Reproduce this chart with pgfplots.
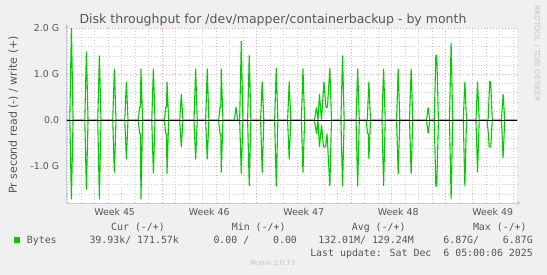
\documentclass[border=0pt]{standalone}
\usepackage{pgfplots}
\pgfplotsset{compat=1.18}
\usepackage{fontspec}
\setmainfont{DejaVu Sans}
\newfontfamily\monof{DejaVu Sans Mono}
\usetikzlibrary{arrows.meta}
\definecolor{bgc}{HTML}{F0F0F0}
\definecolor{txt}{HTML}{555555}
\definecolor{lgtxt}{HTML}{555555}
\definecolor{faint}{HTML}{C4C4C4}
\definecolor{gridmin}{HTML}{C8C8C8}
\definecolor{gridmaj}{HTML}{F2A0A0}
\definecolor{axc}{HTML}{C8C8E8}
\definecolor{dgreen}{HTML}{00CC00}
\begin{document}
\begin{tikzpicture}
\fill[bgc] (0pt,0pt) rectangle (547pt,275pt);
\useasboundingbox (0pt,0pt) rectangle (547pt,275pt);
\begin{axis}[
  at={(66.7pt,72pt)}, anchor=south west,
  scale only axis, width=450.3pt, height=174.7pt,
  xmin=-0.05, xmax=33.3, ymin=-1.80, ymax=2.0,
  axis background/.style={fill=white},
  axis x line*=bottom, axis y line*=left,
  axis line style={draw=axc, line width=0.8pt, -{Triangle[length=4pt,width=4pt]}, shorten >=-4pt},
  xtick={3.5,10.5,17.5,24.5,31.5},
  xticklabels={Week 45,Week 46,Week 47,Week 48,Week 49},
  extra x ticks={0,7,14,21,28},
  extra x tick labels={},
  extra x tick style={grid=major, major tick length=0pt},
  minor xtick={1,2,3,4,5,6,8,9,10,11,12,13,15,16,17,18,19,20,22,23,24,25,26,27,29,30,31,32,33},
  ytick={-1,0,1,2},
  yticklabels={-1.0 G,0.0,1.0 G,2.0 G},
  minor ytick={-1.8,-1.6,-1.4,-1.2,-0.8,-0.6,-0.4,-0.2,0.2,0.4,0.6,0.8,1.2,1.4,1.6,1.8},
  xmajorgrids=false, xminorgrids=true, ymajorgrids=true, yminorgrids=true,
  major grid style={draw=gridmaj, line width=0.6pt, dash pattern=on 1pt off 2pt},
  minor grid style={draw=gridmin, line width=0.6pt, dash pattern=on 1pt off 2pt},
  major tick length=0pt, minor tick length=0pt,
  tick style={draw=none},
  xticklabel style={font=\fontsize{9.4}{11}\selectfont, text=txt, anchor=base, inner sep=0pt, yshift=-12.1pt},
  yticklabel style={font=\fontsize{9.4}{11}\selectfont, text=txt, anchor=east, inner sep=0pt, xshift=-7.4pt},
  clip=true,
]
% write (+)
\addplot[dgreen, line width=1.1pt, line join=bevel] coordinates {
(-0.05,0)
(0.18,0)(0.30,2.05)(0.42,0)
(1.29,0)(1.41,1.50)(1.53,0)
(2.25,0)(2.37,1.41)(2.49,0)
(3.36,0)(3.48,1.12)(3.60,0)
(4.25,0)(4.37,0.84)(4.49,0)
(5.25,0)(5.35,0.28)(5.41,0.28)(5.45,1.12)(5.57,0)
(6.25,0)(6.37,1.12)(6.49,0)
(7.18,0)(7.28,0.28)(7.34,0.28)(7.38,0.84)(7.50,0)
(8.32,0)(8.44,0.57)(8.56,0)
(9.38,0)(9.50,1.12)(9.62,0)
(10.24,0)(10.36,1.12)(10.48,0)
(11.20,0)(11.30,0.28)(11.36,0.28)(11.40,1.12)(11.52,0)
(12.37,0)(12.49,0.29)(12.61,0)
(12.76,0)(12.88,1.72)(13.00,0)
(13.35,0)(13.47,1.41)(13.59,0)
(14.31,0)(14.43,0.84)(14.55,0)
(15.35,0)(15.47,1.14)(15.59,0)
(16.31,0)(16.43,0.84)(16.55,0)
(17.33,0)(17.45,1.12)(17.57,0)
(18.30,0)(18.45,0.28)(18.56,0)(18.67,0.57)(18.82,0)(19.00,0.84)(19.15,0.28)(19.26,0.28)(19.44,1.14)(19.56,0)
(20.26,0)(20.38,1.41)(20.50,0)
(21.38,0)(21.50,1.12)(21.62,0)
(22.21,0)(22.33,0.84)(22.45,0)
(23.30,0)(23.42,1.12)(23.54,0)
(24.38,0)(24.50,1.12)(24.62,0)
(25.34,0)(25.46,1.12)(25.58,0)
(26.60,0)(26.72,0.28)(26.84,0)
(27.17,0)(27.29,1.42)(27.36,1.40)(27.48,0)
(28.30,0)(28.42,1.69)(28.54,0)
(29.32,0)(29.44,0.84)(29.56,0)
(30.26,0)(30.38,0.84)(30.50,0)
(31.16,0)(31.28,0.85)(31.35,0.83)(31.47,0)
(32.15,0)(32.27,0.57)(32.39,0)
(33.3,0)
};
% read (-)
\addplot[dgreen, line width=1.1pt, line join=bevel] coordinates {
(-0.05,0)
(0.18,0)(0.30,-1.72)(0.42,0)
(1.29,0)(1.41,-1.51)(1.53,0)
(2.25,0)(2.37,-1.72)(2.49,0)
(3.36,0)(3.48,-1.14)(3.60,0)
(4.25,0)(4.37,-0.85)(4.49,0)
(5.25,0)(5.35,-0.29)(5.41,-0.29)(5.45,-1.72)(5.57,0)
(6.25,0)(6.37,-1.16)(6.49,0)
(7.18,0)(7.28,-0.29)(7.34,-0.29)(7.38,-1.16)(7.50,0)
(8.32,0)(8.44,-0.58)(8.56,0)
(9.38,0)(9.50,-0.85)(9.62,0)
(10.24,0)(10.36,-0.85)(10.48,0)
(11.20,0)(11.30,-0.29)(11.36,-0.29)(11.40,-1.14)(11.52,0)
(12.76,0)(12.88,-1.16)(13.00,0)
(13.35,0)(13.47,-1.43)(13.59,0)
(14.31,0)(14.43,-1.14)(14.55,0)
(15.35,0)(15.47,-1.44)(15.59,0)
(16.31,0)(16.43,-0.85)(16.55,0)
(17.33,0)(17.45,-1.14)(17.57,0)
(18.30,0)(18.45,-0.29)(18.56,0)(18.67,-0.58)(18.82,-0.10)(18.97,-0.58)(19.12,-0.58)(19.23,-0.29)(19.44,-1.44)(19.56,0)
(20.26,0)(20.38,-1.44)(20.50,0)
(21.38,0)(21.50,-1.44)(21.62,0)
(22.13,0)(22.23,-0.29)(22.29,-0.29)(22.33,-0.85)(22.45,0)
(23.30,0)(23.42,-1.43)(23.54,0)
(24.38,0)(24.50,-1.17)(24.62,0)
(25.34,0)(25.46,-1.17)(25.58,0)
(26.60,0)(26.72,-0.29)(26.84,0)
(27.17,0)(27.29,-1.44)(27.36,-1.42)(27.48,0)
(28.30,0)(28.42,-1.72)(28.54,0)
(29.32,0)(29.44,-1.44)(29.56,0)
(30.26,0)(30.38,-1.14)(30.50,0)
(31.08,0)(31.18,-0.29)(31.24,-0.58)(31.36,-0.57)(31.47,0)
(32.15,0)(32.27,-0.82)(32.39,0)
(33.3,0)
};
\addplot[black, line width=0.8pt] coordinates {(-0.05,0) (33.3,0)};
\end{axis}
% title
\node[text=txt, font=\fontsize{12.5}{15}\selectfont] at (273pt,255pt) {Disk throughput for /dev/mapper/containerbackup - by month};
% y label
\node[text=txt, rotate=90, font=\fontsize{11}{13}\selectfont] at (13.5pt,160pt) {Pr second read (-) / write (+)};
% rrdtool
\node[text=faint, rotate=-90, font=\fontsize{7.5}{9}\selectfont] at (537pt,221.6pt) {RRDTOOL / TOBI OETIKER};
% legend
\begin{scope}[every node/.style={inner sep=0pt, text=lgtxt, font=\monof\fontsize{9.9}{11}\selectfont}]
\node[anchor=base west] at (111pt,44.1pt) {Cur (-/+)};
\node[anchor=base west] at (231.7pt,44.1pt) {Min (-/+)};
\node[anchor=base west] at (351.7pt,44.1pt) {Avg (-/+)};
\node[anchor=base west] at (472.8pt,44.1pt) {Max (-/+)};
\node[anchor=base west] at (26.7pt,31.4pt) {Bytes};
\node[anchor=base west] at (89.3pt,31.4pt) {39.93k/ 171.57k};
\node[anchor=base west] at (213.3pt,31.4pt) {0.00 /\ \ \ \ 0.00};
\node[anchor=base west] at (318.2pt,31.4pt) {132.01M/ 129.24M};
\node[anchor=base east] at (533pt,31.4pt) {6.87G/\ \ \ \ 6.87G};
\node[anchor=base east] at (533pt,18.7pt) {Last update: Sat Dec\ \ 6 05:00:06 2025};
\end{scope}
\fill[dgreen] (14pt,32pt) rectangle (20pt,37.7pt);
\node[text=faint, inner sep=0pt, font=\fontsize{6.9}{8}\selectfont] at (272.7pt,11.7pt) {Munin 2.0.73};
\end{tikzpicture}
\end{document}
